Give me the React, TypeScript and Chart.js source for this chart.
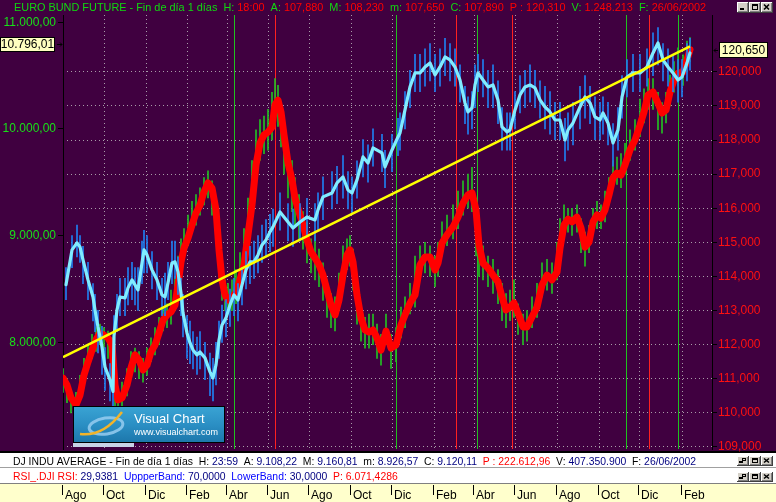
import React, { useEffect, useRef } from 'react';
import { Chart, registerables } from 'chart.js';

Chart.register(...registerables);

const FONT = '"Liberation Sans", Arial, Helvetica, sans-serif';
const BG = '#400040';
const DOT = '#a89ca8';
const AXIS_GREEN = '#18e018';
const AXIS_RED = '#ff1010';

// ---- time axis (trading-day index) ----
const tickDays = [0, 41, 83, 124, 164, 205, 246, 288, 329, 371, 411, 452, 494, 536, 576, 619];
const tickLabels = ['Ago', 'Oct', 'Dic', 'Feb', 'Abr', 'Jun', 'Ago', 'Oct', 'Dic', 'Feb', 'Abr', 'Jun', 'Ago', 'Oct', 'Dic', 'Feb'];
const dayMin = 0;
const dayMax = 649;

// ---- axes ----
const leftTicks = [8000, 9000, 10000, 11000];
const leftMin = 7000;
const leftMax = 11068;
const rightTicks = [109, 110, 111, 112, 113, 114, 115, 116, 117, 118, 119, 120];
const rightMin = 108.941;
const rightMax = 121.665;

// ---- EURO BUND FUTURE (right axis) ----
const bundDays = [0, 4, 8, 13, 17, 21, 25, 29, 33, 37,
  41, 45, 49, 52, 55, 59, 64, 68, 72, 76,
  80, 84, 88, 92, 96, 100, 104, 108, 112, 115,
  118, 121, 125, 129, 133, 137, 141, 145, 149, 153,
  156, 159, 162, 165, 169, 173, 177, 181, 185, 189,
  193, 197, 201, 205, 209, 212, 215, 218, 221, 225,
  229, 232, 236, 240, 244, 248, 252, 256, 260, 264,
  268, 272, 276, 280, 284, 287, 290, 294, 298, 302,
  306, 310, 314, 318, 323, 328, 333, 338, 342, 347,
  352, 357, 362, 367, 372, 375, 379, 384, 390, 395,
  400, 405, 409, 413, 416, 420, 425, 430, 435, 439,
  443, 447, 451, 455, 460, 464, 469, 474, 479, 484,
  489, 494, 497, 501, 505, 509, 514, 518, 522, 526,
  530, 534, 538, 542, 546, 550, 554, 558, 562, 567,
  572, 577, 581, 585, 590, 595, 599, 603, 607, 611,
  615, 620, 624, 627];
const bundAvg = [111.02, 110.82, 110.44, 110.23, 110.52, 111.11, 111.49, 111.84, 112.14, 112.34,
  112.28, 112.20, 111.99, 110.82, 110.38, 110.44, 110.82, 111.32, 111.70, 111.55,
  111.26, 111.40, 111.79, 111.99, 112.34, 112.72, 112.87, 112.96, 113.16, 113.75,
  114.42, 114.83, 115.13, 115.51, 115.86, 116.09, 116.48, 116.74, 116.59, 115.95,
  114.78, 113.90, 113.46, 113.31, 113.37, 113.54, 113.90, 114.34, 115.22, 116.09,
  117.27, 117.91, 118.15, 118.23, 118.38, 119.03, 119.17, 118.82, 118.15, 117.33,
  116.83, 116.30, 115.89, 115.51, 115.07, 114.72, 114.54, 114.34, 114.04, 113.60,
  113.16, 112.87, 113.31, 114.04, 114.63, 114.78, 114.42, 113.46, 112.78, 112.43,
  112.37, 112.43, 112.20, 111.84, 112.40, 111.90, 111.99, 112.58, 112.87, 113.22,
  113.46, 114.34, 114.57, 114.57, 114.19, 114.39, 114.98, 115.22, 115.45, 115.74,
  116.15, 116.39, 116.45, 115.95, 114.92, 114.39, 114.25, 114.04, 113.84, 113.40,
  113.02, 113.10, 113.22, 112.93, 112.52, 112.52, 112.81, 113.10, 113.75, 114.04,
  113.90, 114.13, 114.83, 115.51, 115.68, 115.60, 115.74, 115.42, 114.86, 115.01,
  115.60, 115.80, 115.71, 115.95, 116.39, 116.89, 117.03, 116.97, 117.27, 117.71,
  118.00, 118.44, 118.82, 119.32, 119.41, 119.08, 118.79, 118.88, 119.41, 119.76,
  119.96, 119.99, 120.35, 120.65];
const bundLow = [110.6, 110.3, 110.0, 109.9, 110.4, 110.9, 111.3, 111.6, 111.8, 112.0,
  111.8, 111.6, 110.9, 110.1, 109.9, 110.1, 110.5, 111.0, 111.2, 111.0,
  110.9, 111.1, 111.5, 111.7, 112.0, 112.4, 112.5, 112.6, 113.0, 113.5,
  114.1, 114.5, 114.9, 115.3, 115.5, 115.8, 116.1, 116.3, 115.8, 115.0,
  114.0, 113.3, 113.0, 112.9, 113.0, 113.2, 113.6, 114.1, 114.9, 115.8,
  116.9, 117.4, 117.6, 117.7, 118.0, 118.5, 118.4, 117.8, 117.0, 116.3,
  115.9, 115.5, 115.1, 114.8, 114.4, 114.1, 113.9, 113.7, 113.3, 112.8,
  112.5, 112.4, 113.0, 113.7, 114.2, 114.3, 113.6, 112.6, 112.1, 111.9,
  111.9, 112.0, 111.6, 111.4, 112.0, 111.3, 111.5, 112.2, 112.5, 112.9,
  113.1, 114.0, 114.1, 114.0, 113.7, 114.0, 114.6, 114.9, 115.1, 115.4,
  115.8, 116.0, 115.9, 114.6, 114.0, 113.9, 113.7, 113.5, 113.2, 112.7,
  112.5, 112.7, 112.8, 112.3, 112.0, 112.1, 112.5, 112.8, 113.4, 113.6,
  113.5, 113.9, 114.5, 115.2, 115.3, 115.2, 115.3, 114.7, 114.3, 114.7,
  115.3, 115.4, 115.4, 115.6, 116.1, 116.6, 116.7, 116.6, 117.0, 117.4,
  117.7, 118.1, 118.5, 118.9, 118.9, 118.3, 118.2, 118.5, 119.0, 119.4,
  119.6, 119.6, 120.0, 120.3];
const bundHigh = [111.3, 111.0, 110.6, 110.6, 111.1, 111.6, 112.0, 112.3, 112.5, 112.6,
  112.5, 112.4, 112.2, 111.2, 110.7, 110.9, 111.3, 111.8, 111.9, 111.8,
  111.6, 111.9, 112.2, 112.5, 112.8, 113.1, 113.2, 113.6, 114.0, 114.6,
  115.1, 115.4, 115.8, 116.2, 116.4, 116.6, 116.9, 117.1, 116.8, 116.2,
  115.1, 114.3, 113.9, 113.8, 113.9, 114.2, 114.7, 115.4, 116.3, 117.4,
  118.3, 118.6, 118.7, 118.9, 119.4, 119.8, 119.6, 119.1, 118.4, 117.6,
  117.4, 116.9, 116.4, 115.9, 115.6, 115.1, 115.2, 114.8, 114.4, 113.9,
  113.5, 113.4, 114.1, 114.9, 115.1, 115.2, 114.8, 113.9, 113.1, 112.8,
  112.9, 112.9, 112.6, 112.3, 112.9, 112.3, 112.5, 113.1, 113.4, 113.8,
  114.6, 114.9, 115.0, 114.9, 114.6, 115.0, 115.6, 115.8, 116.1, 116.5,
  116.8, 117.0, 117.2, 116.3, 115.3, 114.9, 114.6, 114.5, 114.2, 113.8,
  113.5, 113.6, 113.9, 113.2, 112.9, 113.0, 113.4, 113.8, 114.4, 114.5,
  114.4, 115.0, 115.7, 116.1, 116.0, 116.0, 116.1, 115.7, 115.3, 115.5,
  116.0, 116.2, 116.1, 116.5, 116.9, 117.4, 117.5, 117.6, 117.9, 118.3,
  118.6, 119.2, 119.5, 119.8, 119.8, 119.4, 119.1, 119.4, 119.9, 120.3,
  120.7, 120.5, 120.9, 121.0];

// ---- DJ INDU AVERAGE (left axis) ----
const djDays = [3, 9, 14, 17, 20, 25, 30, 32, 35, 39,
  42, 47, 50, 51, 54, 57, 62, 65, 69, 72,
  75, 79, 81, 84, 89, 94, 99, 102, 105, 109,
  112, 115, 118, 120, 124, 127, 130, 134, 137, 142,
  147, 150, 153, 156, 159, 163, 167, 171, 175, 179,
  183, 187, 191, 195, 199, 203, 207, 210, 217, 225,
  230, 237, 244, 252, 255, 260, 269, 274, 280, 285,
  289, 294, 300, 305, 310, 319, 322, 329, 335, 337,
  342, 347, 352, 357, 362, 367, 372, 377, 382, 387,
  392, 397, 402, 405, 409, 412, 415, 420, 425, 430,
  435, 439, 444, 447, 452, 457, 462, 467, 472, 477,
  482, 487, 492, 497, 502, 505, 510, 517, 522, 527,
  532, 537, 540, 545, 550, 555, 559, 564, 570, 577,
  584, 590, 595, 600, 605, 610, 615, 619, 624, 627];
const djAvg = [8540, 8866, 8932, 8894, 8772, 8585, 8425, 8304, 8144, 7957,
  7769, 7648, 7540, 8060, 8304, 8425, 8416, 8510, 8585, 8538,
  8491, 8744, 8866, 8819, 8679, 8585, 8444, 8425, 8557, 8744,
  8754, 8660, 8463, 8276, 8088, 7994, 7929, 7882, 7910, 7854,
  7723, 7666, 7788, 8022, 8163, 8229, 8351, 8444, 8397, 8538,
  8679, 8754, 8754, 8819, 8913, 8960, 9035, 9082, 9222, 9128,
  9072, 9128, 9175, 9147, 9241, 9363, 9400, 9494, 9550, 9428,
  9400, 9522, 9738, 9681, 9822, 9775, 9644, 9803, 9925, 9962,
  10178, 10394, 10525, 10525, 10581, 10619, 10506, 10581, 10675, 10647,
  10581, 10459, 10244, 10159, 10197, 10412, 10525, 10459, 10394, 10412,
  10272, 10019, 9972, 9991, 10178, 10319, 10394, 10412, 10384, 10272,
  10206, 10159, 10084, 10084, 9897, 9991, 10056, 10206, 10300, 10244,
  10112, 10084, 10150, 10056, 9869, 9991, 10300, 10487, 10525, 10525,
  10581, 10712, 10806, 10647, 10581, 10525, 10459, 10487, 10619, 10712];
const djLow = [8400, 8700, 8800, 8750, 8550, 8400, 8200, 8100, 7900, 7700,
  7550, 7450, 7400, 7700, 8100, 8250, 8250, 8350, 8400, 8350,
  8300, 8550, 8650, 8650, 8500, 8400, 8250, 8250, 8400, 8550,
  8600, 8450, 8250, 8050, 7850, 7800, 7750, 7700, 7750, 7650,
  7500, 7450, 7600, 7850, 8000, 8050, 8150, 8250, 8200, 8350,
  8500, 8550, 8600, 8650, 8750, 8800, 8850, 8900, 9050, 8950,
  8900, 8950, 9000, 8950, 9050, 9150, 9250, 9300, 9350, 9250,
  9200, 9350, 9550, 9500, 9650, 9600, 9450, 9600, 9750, 9800,
  10000, 10200, 10350, 10350, 10400, 10450, 10350, 10400, 10500, 10450,
  10400, 10250, 10050, 9950, 10000, 10200, 10350, 10300, 10200, 10200,
  10050, 9800, 9800, 9800, 10000, 10150, 10200, 10250, 10200, 10100,
  10000, 9950, 9900, 9900, 9700, 9800, 9850, 10000, 10100, 10050,
  9900, 9900, 9950, 9850, 9650, 9800, 10100, 10300, 10350, 10350,
  10400, 10500, 10600, 10450, 10400, 10350, 10250, 10300, 10450, 10550];
const djHigh = [8700, 9000, 9100, 9000, 8900, 8750, 8550, 8450, 8300, 8150,
  7950, 7800, 7750, 8250, 8450, 8600, 8600, 8700, 8750, 8700,
  8700, 8950, 9050, 9000, 8850, 8750, 8600, 8650, 8750, 8950,
  8950, 8800, 8600, 8450, 8250, 8200, 8100, 8050, 8100, 8000,
  7900, 7850, 8000, 8200, 8350, 8400, 8500, 8600, 8550, 8700,
  8850, 8900, 8950, 9000, 9100, 9150, 9200, 9250, 9400, 9300,
  9250, 9300, 9350, 9300, 9400, 9550, 9600, 9650, 9750, 9600,
  9550, 9700, 9900, 9850, 10000, 9950, 9800, 9950, 10100, 10150,
  10350, 10550, 10700, 10700, 10750, 10800, 10700, 10750, 10850, 10800,
  10750, 10600, 10400, 10300, 10350, 10600, 10700, 10650, 10550, 10600,
  10450, 10200, 10150, 10150, 10350, 10500, 10550, 10600, 10550, 10450,
  10400, 10350, 10250, 10250, 10100, 10150, 10250, 10400, 10500, 10400,
  10300, 10250, 10300, 10250, 10050, 10200, 10500, 10650, 10700, 10700,
  10750, 10900, 10950, 10800, 10750, 10700, 10650, 10650, 10800, 10850];

// ---- trend line (left axis) ----
const trendDays = [0, 627];
const trendValues = [7860, 10775];

// ---- vertical markers ----
const greenMarkDays = [171, 333, 414, 563, 615];
const redMarkDays = [212, 393, 449, 586];

// ---- last values boxes ----
const lastDJ = 10796.01;
const lastBund = 120.65;

// ---- header texts ----
type Seg = [string, string];
const G = '#10d810', R = '#ff0000', K = '#000000', N = '#000080', B = '#0000ff';
const titleSegs: Seg[] = [
  ['EURO BUND FUTURE - Fin de día 1 días  H: ', G], ['18:00', R], ['  A: ', G], ['107,880', R],
  ['  M: ', G], ['108,230', R], ['  m: ', G], ['107,650', R], ['  C: ', G], ['107,890', R],
  ['  P : 120,310', R], ['  V: ', G], ['1.248.213', R], ['  F: ', G], ['26/06/2002', R],
];
const djSegs: Seg[] = [
  ['DJ INDU AVERAGE - Fin de día 1 días  H: ', K], ['23:59', N], ['  A: ', K], ['9.108,22', N],
  ['  M: ', K], ['9.160,81', N], ['  m: ', K], ['8.926,57', N], ['  C: ', K], ['9.120,11', N],
  ['  P : 222.612,96', R], ['  V: ', K], ['407.350.900', N], ['  F: ', K], ['26/06/2002', N],
];
const rsiSegs: Seg[] = [
  ['RSI_.DJI RSI: ', R], ['29,9381', N], ['  UppperBand: ', B], ['70,0000', N],
  ['  LowerBand: ', B], ['30,0000', N], ['  P: 6.071,4286', R],
];

const fmtDJ = (v: number) => {
  const [i, d] = v.toFixed(2).split('.');
  return i.replace(/\B(?=(\d{3})+(?!\d))/g, '.') + ',' + d;
};
const fmtBund = (v: number) => v.toFixed(3).replace('.', ',');

function drawSegs(ctx: any, segs: Seg[], x: number, y: number) {
  for (const [t, c] of segs) {
    ctx.fillStyle = c;
    ctx.fillText(t, x, y);
    x += ctx.measureText(t).width;
  }
}

function winBtn(ctx: any, x: number, y: number, w: number, h: number, kind: string) {
  ctx.fillStyle = '#d4d0c8'; ctx.fillRect(x, y, w, h);
  ctx.fillStyle = '#ffffff'; ctx.fillRect(x, y, w, 1); ctx.fillRect(x, y, 1, h);
  ctx.fillStyle = '#404040'; ctx.fillRect(x, y + h - 1, w, 1); ctx.fillRect(x + w - 1, y, 1, h);
  ctx.fillStyle = '#808080'; ctx.fillRect(x + 1, y + h - 2, w - 2, 1); ctx.fillRect(x + w - 2, y + 1, 1, h - 2);
  ctx.fillStyle = '#000'; ctx.strokeStyle = '#000'; ctx.lineWidth = 1;
  const cx = x + 2, cy = y + 2, cw = w - 5, ch = h - 5;
  if (kind === 'min') {
    ctx.fillRect(cx + 1, cy + ch - 2, cw - 3, 2);
  } else if (kind === 'max') {
    ctx.strokeRect(cx + 1.5, cy + 0.5, cw - 2, ch - 1);
    ctx.fillRect(cx + 1, cy, cw - 1, 2);
  } else if (kind === 'restore') {
    ctx.strokeRect(cx + 3.5, cy + 0.5, cw - 4, ch - 3);
    ctx.fillRect(cx + 3, cy, cw - 3, 1);
    ctx.fillStyle = '#d4d0c8'; ctx.fillRect(cx + 0.5, cy + 3, cw - 4, ch - 3);
    ctx.strokeRect(cx + 0.5, cy + 3.5, cw - 4, ch - 4);
    ctx.fillStyle = '#000'; ctx.fillRect(cx, cy + 3, cw - 3, 1);
  } else if (kind === 'close') {
    ctx.lineWidth = 1.6;
    ctx.beginPath();
    ctx.moveTo(cx + 1, cy + 0.5); ctx.lineTo(cx + cw - 1, cy + ch - 0.5);
    ctx.moveTo(cx + cw - 1, cy + 0.5); ctx.lineTo(cx + 1, cy + ch - 0.5);
    ctx.stroke();
  }
}

function drawLogo(ctx: any, x: number, y: number) {
  const w = 152, h = 37;
  const g = ctx.createLinearGradient(x, y, x, y + h);
  g.addColorStop(0, '#3aa4d4');
  g.addColorStop(0.5, '#2b8fc4');
  g.addColorStop(1, '#1c76aa');
  ctx.fillStyle = g; ctx.fillRect(x, y, w, h);
  ctx.strokeStyle = '#000'; ctx.lineWidth = 1; ctx.strokeRect(x + 0.5, y + 0.5, w - 1, h - 1);
  ctx.strokeStyle = 'rgba(150,205,240,0.85)'; ctx.lineWidth = 3;
  ctx.beginPath(); ctx.ellipse(x + 33, y + 20, 17, 8, -0.15, 0, Math.PI * 2); ctx.stroke();
  ctx.strokeStyle = '#f2b42a'; ctx.lineWidth = 2.5;
  ctx.beginPath(); ctx.moveTo(x + 7, y + 28); ctx.quadraticCurveTo(x + 30, y + 31, x + 49, y + 6); ctx.stroke();
  ctx.fillStyle = '#ffffff';
  ctx.textAlign = 'left'; ctx.textBaseline = 'alphabetic';
  ctx.font = `13px ${FONT}`; ctx.fillText('Visual Chart', x + 61, y + 17);
  ctx.font = `9px ${FONT}`; ctx.fillText('www.visualchart.com', x + 61, y + 29);
  ctx.fillStyle = '#c8d2e6'; ctx.fillRect(x, y + h, 61, 4);
}

const decoPlugin = {
  id: 'deco',
  beforeDraw(chart: any) {
    const { ctx, width, height } = chart;
    ctx.save();
    ctx.fillStyle = BG; ctx.fillRect(0, 0, width, height);
    ctx.fillStyle = '#000'; ctx.fillRect(0, 451, width, 2);
    ctx.fillStyle = '#fff'; ctx.fillRect(0, 453, width, 14);
    ctx.fillStyle = '#a0a0a0'; ctx.fillRect(0, 467, width, 1);
    ctx.fillStyle = '#fff'; ctx.fillRect(0, 468, width, 15);
    ctx.fillStyle = '#808080'; ctx.fillRect(0, 483, width, 1);
    ctx.fillStyle = '#ffffcc'; ctx.fillRect(0, 484, width, height - 484);
    ctx.textBaseline = 'alphabetic'; ctx.textAlign = 'left';
    ctx.font = `10.9px ${FONT}`;
    drawSegs(ctx, titleSegs, 14, 11);
    ctx.font = `10.4px ${FONT}`;
    drawSegs(ctx, djSegs, 13, 465);
    drawSegs(ctx, rsiSegs, 13, 480);
    winBtn(ctx, 737, 2, 12, 11, 'min');
    winBtn(ctx, 749, 2, 12, 11, 'max');
    winBtn(ctx, 761, 2, 12, 11, 'close');
    winBtn(ctx, 737, 456, 12, 10, 'restore');
    winBtn(ctx, 749, 456, 12, 10, 'max');
    winBtn(ctx, 761, 456, 12, 10, 'close');
    winBtn(ctx, 737, 472, 12, 10, 'restore');
    winBtn(ctx, 749, 472, 12, 10, 'max');
    winBtn(ctx, 761, 472, 12, 10, 'close');
    ctx.restore();
  },
  beforeDatasetsDraw(chart: any) {
    const { ctx, chartArea: a, scales } = chart;
    const xs = scales.x;
    ctx.save();
    ctx.lineWidth = 1;
    const mark = (d: number, c: string) => {
      const px = Math.round(xs.getPixelForValue(d)) + 0.5;
      ctx.strokeStyle = c;
      ctx.beginPath(); ctx.moveTo(px, a.top); ctx.lineTo(px, a.bottom); ctx.stroke();
    };
    greenMarkDays.forEach((d) => mark(d, '#20c020'));
    redMarkDays.forEach((d) => mark(d, '#ff2020'));
    ctx.restore();
  },
  afterDatasetsDraw(chart: any) {
    const { ctx, chartArea: a } = chart;
    ctx.save();
    drawLogo(ctx, a.left + 10, a.bottom - 43);
    ctx.restore();
  },
  afterDraw(chart: any) {
    const { ctx, scales } = chart;
    ctx.save();
    ctx.strokeStyle = '#000'; ctx.lineWidth = 1;
    scales.x.ticks.forEach((t: any) => {
      const px = Math.round(scales.x.getPixelForValue(t.value)) - 0.5;
      ctx.beginPath(); ctx.moveTo(px, 485); ctx.lineTo(px, 495); ctx.stroke();
    });
    ctx.font = `12px ${FONT}`; ctx.textBaseline = 'middle'; ctx.textAlign = 'center';
    const pyL = Math.round(scales.yL.getPixelForValue(lastDJ));
    ctx.fillStyle = '#ffffc0'; ctx.fillRect(0, pyL - 7, 55, 15);
    ctx.strokeStyle = '#000'; ctx.strokeRect(0.5, pyL - 6.5, 54, 14);
    ctx.fillStyle = '#000'; ctx.fillText(fmtDJ(lastDJ), 27.5, pyL + 1);
    ctx.beginPath(); ctx.moveTo(57, pyL + 0.5); ctx.lineTo(62, pyL + 0.5);
    ctx.moveTo(60, pyL - 1.5); ctx.lineTo(62, pyL + 0.5); ctx.lineTo(60, pyL + 2.5); ctx.stroke();
    const pyR = Math.round(scales.yR.getPixelForValue(lastBund));
    ctx.fillStyle = '#ffffc0'; ctx.fillRect(719, pyR - 8, 49, 16);
    ctx.strokeStyle = '#000'; ctx.strokeRect(719.5, pyR - 7.5, 48, 15);
    ctx.fillStyle = '#000'; ctx.fillText(fmtBund(lastBund), 743.5, pyR + 1);
    ctx.beginPath(); ctx.moveTo(714, pyR + 0.5); ctx.lineTo(718, pyR + 0.5);
    ctx.moveTo(716, pyR - 1.5); ctx.lineTo(714, pyR + 0.5); ctx.lineTo(716, pyR + 2.5); ctx.stroke();
    ctx.restore();
  },
};

export default function App() {
  const ref = useRef<HTMLCanvasElement>(null);
  useEffect(() => {
    document.body.style.margin = '0';
    const canvas = ref.current;
    if (!canvas) return;
    const chart = new Chart(canvas, {
      type: 'line',
      data: {
        datasets: [
          {
            type: 'line', label: 'Tendencia', yAxisID: 'yL', order: 0,
            data: trendDays.map((d, i) => ({ x: d, y: trendValues[i] })),
            borderColor: '#ffff00', borderWidth: 2.5, pointRadius: 0,
          },
          {
            type: 'line', label: 'DJ INDU AVERAGE', yAxisID: 'yL', order: 1,
            data: djDays.map((d, i) => ({ x: d, y: djAvg[i] })),
            borderColor: '#80ecff', borderWidth: 3.2, pointRadius: 0, tension: 0,
            borderJoinStyle: 'round', borderCapStyle: 'round',
          },
          {
            type: 'bar', label: 'DJ barras', yAxisID: 'yL', order: 2,
            data: djDays.map((d, i) => ({ x: d, y: [djLow[i], djHigh[i]] })),
            backgroundColor: '#1f7ff0', borderWidth: 0, barThickness: 1, grouped: false,
          },
          {
            type: 'line', label: 'EURO BUND FUTURE', yAxisID: 'yR', order: 3,
            data: bundDays.map((d, i) => ({ x: d, y: bundAvg[i] })),
            borderColor: '#ff0000', borderWidth: 7, pointRadius: 0, tension: 0,
            borderJoinStyle: 'round', borderCapStyle: 'round',
          },
          {
            type: 'bar', label: 'Bund barras', yAxisID: 'yR', order: 4,
            data: bundDays.map((d, i) => ({ x: d, y: [bundLow[i], bundHigh[i]] })),
            backgroundColor: '#22c022', borderWidth: 0, barThickness: 1, grouped: false,
          },
        ],
      } as any,
      options: {
        responsive: false,
        animation: false,
        events: [],
        layout: { padding: { top: 15, left: 0, right: 0, bottom: 0 } },
        plugins: { legend: { display: false }, tooltip: { enabled: false }, title: { display: false } },
        scales: {
          x: {
            type: 'linear', min: dayMin, max: dayMax, offset: false, bounds: 'data',
            afterFit: (s: any) => { s.height = 53; },
            afterBuildTicks: (s: any) => { s.ticks = tickDays.map((v) => ({ value: v })); },
            ticks: {
              autoSkip: false, maxRotation: 0, minRotation: 0, align: 'start', labelOffset: 2,
              padding: 39, color: '#000', font: { size: 12, family: FONT },
              callback: (v: any) => { const i = tickDays.indexOf(Number(v)); return i >= 0 ? tickLabels[i] : ''; },
            },
            grid: {
              drawTicks: false, lineWidth: 1, offset: false,
              color: (c: any) => (c.tick && c.tick.value === 0 ? 'rgba(0,0,0,0)' : DOT),
            },
            border: { display: false, dash: [1, 3] },
          },
          yL: {
            type: 'linear', position: 'left', min: leftMin, max: leftMax, bounds: 'data',
            afterFit: (s: any) => { s.width = 63; },
            afterBuildTicks: (s: any) => { s.ticks = leftTicks.map((v) => ({ value: v })); },
            ticks: { color: AXIS_GREEN, font: { size: 12, family: FONT }, padding: 2, autoSkip: false, callback: (v: any) => fmtDJ(Number(v)) },
            grid: { drawOnChartArea: false, drawTicks: true, tickLength: 5, tickColor: '#000', color: '#000' },
            border: { display: true, color: '#000', width: 1 },
          },
          yR: {
            type: 'linear', position: 'right', min: rightMin, max: rightMax, bounds: 'data',
            afterFit: (s: any) => { s.width = 64; },
            afterBuildTicks: (s: any) => { s.ticks = rightTicks.map((v) => ({ value: v })); },
            ticks: { color: AXIS_RED, font: { size: 12, family: FONT }, padding: 1, autoSkip: false, callback: (v: any) => fmtBund(Number(v)) },
            grid: { drawOnChartArea: true, drawTicks: true, tickLength: 5, tickColor: '#000', color: DOT, tickBorderDash: [] },
            border: { display: true, color: '#000', width: 1, dash: [1, 3] },
          },
        },
      } as any,
      plugins: [decoPlugin],
    });
    return () => chart.destroy();
  }, []);
  return (
    <div style={{ position: 'fixed', left: 0, top: 0, width: 776, height: 502 }}>
      <canvas ref={ref} width={776} height={502} style={{ display: 'block', width: 776, height: 502 }} />
    </div>
  );
}
